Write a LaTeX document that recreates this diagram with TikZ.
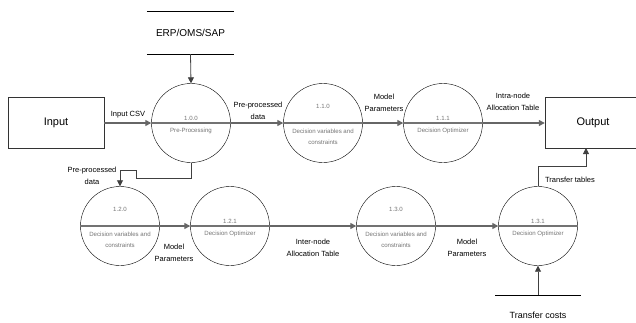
\documentclass[tikz,border=0pt]{standalone}
\usepackage{fontspec}
\setmainfont{Liberation Sans}
\usetikzlibrary{arrows.meta, positioning}

\begin{document}
\begin{tikzpicture}[
    x=1pt, y=-1pt,
    proc/.style={draw, circle, minimum size=79pt, inner sep=0pt, thin},
    extbox/.style={draw=black!80, minimum width=96pt, minimum height=51pt,
                   font=\fontsize{11}{13}\selectfont},
    lbl/.style={align=center, font=\fontsize{7.5}{12}\selectfont},
    ptxt/.style={text=black!55, font=\fontsize{6.1}{11}\selectfont, align=center},
    divider/.style={draw=black!55, line width=1.3pt},
    flow/.style={draw=black!60, line width=1.3pt, -{Triangle[length=6pt,width=6pt]}},
    thinflow/.style={draw=black!75, line width=0.8pt, -{Triangle[length=6pt,width=6pt]}}
  ]
  \useasboundingbox (0,0) rectangle (636,322);

  % External entities
  \node[extbox] (input) at (56,123) {Input};
  \node[extbox] (output) at (593,123) {Output};

  % Data stores
  \node[font=\fontsize{10}{12}\selectfont, minimum width=87pt, minimum height=43pt] (erp) at (190.5,32.5) {ERP/OMS/SAP};
  \draw[thin] (erp.north west) -- (erp.north east);
  \draw[thin] (erp.south west) -- (erp.south east);
  \coordinate (costs) at (538,295);
  \draw[thin] ([xshift=-43pt]costs) -- ([xshift=43pt]costs);
  \node[font=\fontsize{9}{11}\selectfont] (costslbl) at (538,315) {Transfer costs};

  % Processes
  \node[proc] (p100) at (191,123) {};
  \node[proc] (p110) at (323,123) {};
  \node[proc] (p111) at (443,123) {};
  \node[proc] (p120) at (120,226) {};
  \node[proc] (p121) at (230,226) {};
  \node[proc] (p130) at (396,226) {};
  \node[proc] (p131) at (538,226) {};

  % Process dividers and texts
  \foreach \p in {p100,p110,p111,p120,p121,p130,p131}
    \draw[divider] (\p.west) -- (\p.east);
  \foreach \p/\num in {p100/1.0.0, p111/1.1.1, p121/1.2.1, p131/1.3.1}
    \node[ptxt] at ([yshift=5pt]\p.center) {\num};
  \foreach \p/\num in {p110/1.1.0, p120/1.2.0, p130/1.3.0}
    \node[ptxt] at ([yshift=17pt]\p.center) {\num};
  \node[ptxt] at ([yshift=-8pt]p100.center) {Pre-Processing};
  \foreach \p in {p111,p121,p131}
    \node[ptxt] at ([yshift=-8pt]\p.center) {Decision Optimizer};
  \foreach \p in {p110,p120,p130}
    \node[ptxt] at ([yshift=-13.5pt]\p.center) {Decision variables and\\constraints};

  % Flows
  \draw[flow] (input) -- (p100);
  \draw[flow] (p100) -- (p110);
  \draw[flow] (p110) -- (p111);
  \draw[flow] (p111) -- (output);
  \draw[flow] (p120) -- (p121);
  \draw[flow] (p121) -- (p130);
  \draw[flow] (p130) -- (p131);
  \draw[thinflow] (erp.south) -- (p100.north);
  \draw[thinflow] (p100.south) -- ++(0,16) -| (136,170) -| (p120.north);
  \draw[thinflow] (p131.north) -- ++(0,-20) -| (586,148);
  \draw[thinflow] (costs) -- (p131.south);

  % Flow labels
  \node[lbl] at (128,115) {Input CSV};
  \node[lbl] at (258,111) {Pre-processed\\data};
  \node[lbl] at (384,102.5) {Model\\Parameters};
  \node[lbl] at (513,102) {Intra-node\\Allocation Table};
  \node[lbl] at (92,176) {Pre-processed\\data};
  \node[lbl] at (174,253) {Model\\Parameters};
  \node[lbl] at (313,248) {Inter-node\\Allocation Table};
  \node[lbl] at (467,248) {Model\\Parameters};
  \node[lbl] at (570,180) {Transfer tables};
\end{tikzpicture}
\end{document}
